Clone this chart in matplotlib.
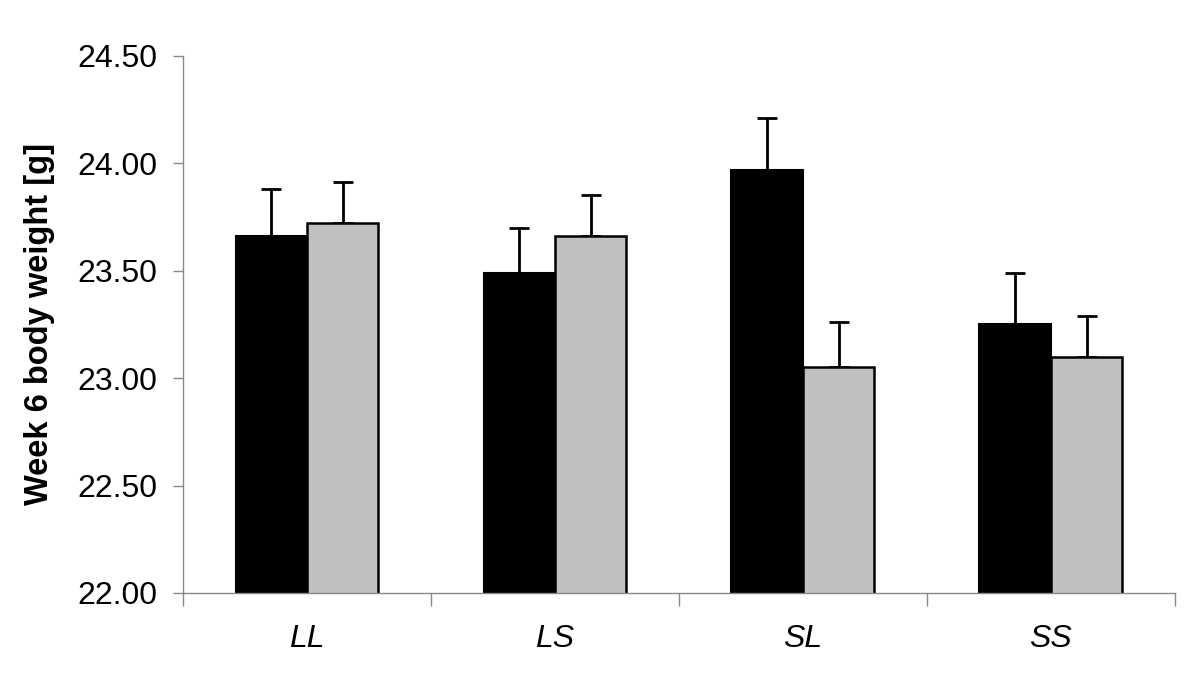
import matplotlib
matplotlib.use("Agg")
import matplotlib.pyplot as plt
import numpy as np

plt.rcParams['font.family'] = ['Liberation Sans', 'DejaVu Sans']

groups = ['LL', 'LS', 'SL', 'SS']
black_vals = [23.66, 23.49, 23.97, 23.25]
black_err = [0.22, 0.21, 0.24, 0.24]
gray_vals = [23.72, 23.66, 23.05, 23.10]
gray_err = [0.19, 0.19, 0.21, 0.19]

fig = plt.figure(figsize=(12, 6.75), dpi=100)
ax = fig.add_axes([0.1525, 0.1215, 0.8265, 0.796])

x = np.arange(len(groups))
w = 0.288
ax.bar(x - w / 2, black_vals, w, color='black', edgecolor='black', linewidth=1.5, zorder=2)
ax.bar(x + w / 2, gray_vals, w, color='#c0c0c0', edgecolor='black', linewidth=1.8, zorder=2)

# upper error bars only
ax.errorbar(x - w / 2, black_vals, yerr=[np.zeros(4), black_err], fmt='none',
            ecolor='black', elinewidth=2, capsize=7.2, capthick=2, zorder=1)
ax.errorbar(x + w / 2, gray_vals, yerr=[np.zeros(4), gray_err], fmt='none',
            ecolor='black', elinewidth=2, capsize=7.2, capthick=2, zorder=1)

ax.set_ylim(22.0, 24.5)
ax.set_xlim(-0.5, 3.5)
yt = np.arange(22.0, 24.51, 0.5)
ax.set_yticks(yt)
ax.set_yticklabels([f'{v:.2f}' for v in yt], fontsize=23)

ax.set_xticks(np.arange(-0.5, 3.6, 1.0))
ax.set_xticklabels([])
ax.set_xticks(x, minor=True)
ax.set_xticklabels(groups, minor=True, fontsize=23, style='italic')
ax.tick_params(axis='x', which='major', length=9, color='#888888', width=1)
ax.tick_params(axis='x', which='minor', length=0, pad=22)
ax.tick_params(axis='y', length=7.5, color='#888888', width=1, pad=11)

for s in ['top', 'right']:
    ax.spines[s].set_visible(False)
for s in ['left', 'bottom']:
    ax.spines[s].set_color('#888888')
    ax.spines[s].set_linewidth(1)

ax.set_ylabel('Week 6 body weight [g]', fontsize=23.5, fontweight='bold', labelpad=16)

fig.savefig('out.png', dpi=100)
